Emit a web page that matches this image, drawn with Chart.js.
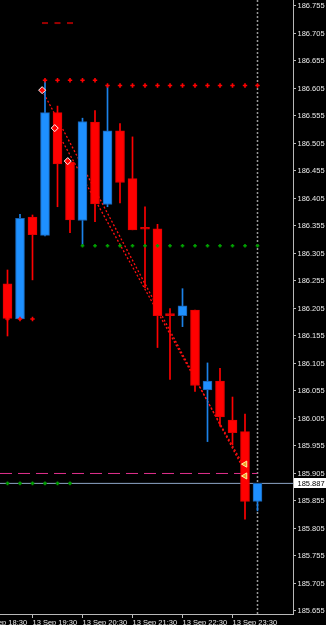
<!DOCTYPE html>
<html>
<head>
  <meta charset="UTF-8">
  <title>M15 Candles</title>
  <script src="https://cdn.jsdelivr.net/npm/chart.js"></script>
  <style>
    html, body { margin: 0; padding: 0; background: #000; }
    .chart-box { width: 326px; height: 625px; }
  </style>
</head>
<body>
  <div class="chart-box">
    <canvas id="priceChart"></canvas>
  </div>

  <script>
    // 15 minute candles, 13 Sep 19:00 .. 14 Sep 00:00
    const times = ['19:00','19:15','19:30','19:45','20:00','20:15','20:30','20:45','21:00','21:15','21:30',
                   '21:45','22:00','22:15','22:30','22:45','23:00','23:15','23:30','23:45','00:00'];
    const opens  = [186.250, 186.186, 186.371, 186.338, 186.561, 186.471, 186.365, 186.544, 186.394, 186.528, 186.441,
                    186.352, 186.350, 186.195, 186.192, 186.202, 186.057, 186.073, 186.002, 185.981, 185.854];
    const highs  = [186.275, 186.376, 186.375, 186.620, 186.573, 186.473, 186.551, 186.565, 186.611, 186.541, 186.517,
                    186.390, 186.358, 186.205, 186.241, 186.202, 186.106, 186.096, 186.044, 186.013, 185.887];
    const lows   = [186.155, 186.185, 186.257, 186.337, 186.390, 186.343, 186.319, 186.363, 186.390, 186.397, 186.348,
                    186.243, 186.134, 186.076, 186.172, 186.054, 185.963, 185.991, 185.957, 185.822, 185.837];
    const closes = [186.187, 186.369, 186.339, 186.561, 186.468, 186.366, 186.545, 186.395, 186.528, 186.434, 186.348,
                    186.349, 186.192, 186.192, 186.210, 186.065, 186.073, 186.008, 185.979, 185.854, 185.887];
    const bid = 185.887;

    // price axis and time axis ticks
    const yTicks = [186.755, 186.705, 186.655, 186.605, 186.555, 186.505, 186.455, 186.405, 186.355, 186.305, 186.255,
                    186.205, 186.155, 186.105, 186.055, 186.005, 185.955, 185.905, 185.855, 185.805, 185.755, 185.705, 185.655];
    const xTickPos = [-2, 2, 6, 10, 14, 18];   // candle index (18:30 is two bars before the first one)
    const xTickLabels = ['13 Sep 18:30', '13 Sep 19:30', '13 Sep 20:30', '13 Sep 21:30', '13 Sep 22:30', '13 Sep 23:30'];

    // indicator levels (candle indexes + price)
    const redTopIdx = [3, 4, 5, 6, 7];            const redTopPrice = 186.620;
    const redResIdx = [8, 9, 10, 11, 12, 13, 14, 15, 16, 17, 18, 19, 20]; const redResPrice = 186.6105;
    const greenSupIdx = [6, 7, 8, 9, 10, 11, 12, 13, 14, 15, 16, 17, 18, 19, 20]; const greenSupPrice = 186.319;
    const greenLowIdx = [0, 1, 2, 3, 4, 5];       const greenLowPrice = 185.887;
    const redLowIdx = [0, 1, 2];                  const redLowPrice = 186.186;
    const darkDashIdx = [3, 4, 5];                const darkDashPrice = 186.724;
    const pinkLevel = 185.905;
    const separatorIdx = 20;

    // trend lines and arrows
    const trendA = [[2.76, 186.602], [18.84, 185.915]];
    const trendB = [[3.80, 186.533], [19.08, 185.911]];
    const closeArrows = [[2.77, 186.602], [3.78, 186.533], [4.82, 186.473]];
    const sellArrows = [[19.0, 185.922], [19.0, 185.9005]];

    const xMin = -0.6, xMax = 22.84;
    const yMin = 185.6495, yMax = 186.7659;

    const BLUE = '#1e90ff', RED = '#ff0000';
    const up = times.map((t, i) => closes[i] >= opens[i]);
    const font = { family: '"Liberation Sans", Arial, sans-serif', size: 7.5 };
    const pts = arr => arr.map(p => ({ x: p[0], y: p[1] }));
    const row = (idx, price) => idx.map(i => ({ x: i, y: price }));

    const bidLabel = {
      id: 'bidLabel',
      afterDraw(chart) {
        const { ctx, chartArea, scales } = chart;
        const py = Math.round(scales.y.getPixelForValue(bid));
        ctx.save();
        ctx.fillStyle = '#ffffff';
        ctx.fillRect(chartArea.right + 1, py - 5, chart.width - chartArea.right, 10);
        ctx.fillStyle = '#000000';
        ctx.font = '7.5px "Liberation Sans", Arial, sans-serif';
        ctx.textBaseline = 'middle';
        ctx.fillText(bid.toFixed(3), chartArea.right + 4.5, py + 0.5);
        ctx.restore();
      }
    };

    const ctx = document.getElementById('priceChart').getContext('2d');
    new Chart(ctx, {
      type: 'bar',
      data: {
        datasets: [
          // candles
          {
            type: 'bar', order: 5, grouped: false, barThickness: 1,
            data: times.map((t, i) => ({ x: i, y: [lows[i], highs[i]] })),
            backgroundColor: up.map(u => u ? '#1c82e8' : RED)
          },
          {
            type: 'bar', order: 4, grouped: false, barThickness: 9, minBarLength: 2,
            data: times.map((t, i) => ({ x: i, y: [opens[i], closes[i]] })),
            backgroundColor: up.map(u => u ? BLUE : RED),
            borderColor: up.map(u => u ? '#1a62b0' : '#e00000'),
            borderWidth: 1, borderSkipped: false
          },
          // horizontal lines
          {
            type: 'line', order: 8, data: [{ x: xMin, y: bid }, { x: xMax, y: bid }],
            borderColor: '#8ea6c6', borderWidth: 1, pointRadius: 0
          },
          {
            type: 'line', order: 7, data: [{ x: xMin, y: pinkLevel }, { x: separatorIdx, y: pinkLevel }],
            borderColor: '#e0308c', borderWidth: 1, borderDash: [12, 6], pointRadius: 0
          },
          {
            type: 'line', order: 9, data: [{ x: separatorIdx, y: yMin }, { x: separatorIdx, y: yMax }],
            borderColor: '#9a9a9a', borderWidth: 1.5, borderDash: [2, 2], pointRadius: 0
          },
          // trend lines
          {
            type: 'line', order: 6, data: pts(trendA),
            borderColor: '#ff1010', borderWidth: 1.3, borderDash: [2, 2], pointRadius: 0
          },
          {
            type: 'line', order: 6, data: pts(trendB),
            borderColor: '#ff1010', borderWidth: 1.3, borderDash: [2, 2], pointRadius: 0
          },
          // level dots
          {
            type: 'line', order: 3, showLine: false, data: row(redTopIdx, redTopPrice).concat(row(redResIdx, redResPrice), row(redLowIdx, redLowPrice)),
            pointStyle: 'cross', pointRadius: 2.2, pointBorderWidth: 1.6, pointBorderColor: RED, pointBackgroundColor: RED
          },
          {
            type: 'line', order: 3, showLine: false, data: row(greenSupIdx, greenSupPrice).concat(row(greenLowIdx, greenLowPrice)),
            pointStyle: 'cross', pointRadius: 1.8, pointBorderWidth: 1.6, pointBorderColor: '#00a000', pointBackgroundColor: '#00a000'
          },
          {
            type: 'line', order: 3, showLine: false, data: row(darkDashIdx, darkDashPrice),
            pointStyle: 'line', pointRadius: 3, pointBorderWidth: 2, pointBorderColor: '#9a0000'
          },
          // arrows
          {
            type: 'line', order: 1, showLine: false, data: pts(closeArrows),
            pointStyle: 'rectRot', pointRadius: 3.5, pointBorderWidth: 1,
            pointBorderColor: '#ffffff', pointBackgroundColor: RED
          },
          {
            type: 'line', order: 1, showLine: false, data: pts(sellArrows),
            pointStyle: 'triangle', pointRotation: -90, pointRadius: 3.5, pointBorderWidth: 1,
            pointBorderColor: '#fff2a0', pointBackgroundColor: '#f0a020'
          }
        ]
      },
      options: {
        responsive: true,
        maintainAspectRatio: false,
        animation: false,
        events: [],
        layout: { padding: 0, autoPadding: false },
        plugins: { legend: { display: false }, tooltip: { enabled: false } },
        scales: {
          x: {
            type: 'linear', min: xMin, max: xMax, offset: false, bounds: 'data',
            afterBuildTicks: s => { s.ticks = xTickPos.map(v => ({ value: v })); },
            afterFit: s => { s.height = 11; s.paddingLeft = 0; s.paddingRight = 0; },
            grid: { drawOnChartArea: false, tickLength: 4, color: '#b8b8b8', offset: false },
            border: { display: true, color: '#b8b8b8' },
            ticks: {
              align: 'start', maxRotation: 0, autoSkip: false, padding: 0, color: '#e8e8e8', font: font,
              callback: (v, i) => xTickLabels[i]
            }
          },
          y: {
            position: 'right', min: yMin, max: yMax, bounds: 'data',
            afterBuildTicks: s => { s.ticks = yTicks.map(v => ({ value: v })); },
            afterFit: s => { s.width = 33; s.paddingTop = 0; s.paddingBottom = 0; },
            grid: { drawOnChartArea: false, tickLength: 3, color: '#b8b8b8' },
            border: { display: true, color: '#b8b8b8' },
            ticks: {
              autoSkip: false, padding: 1.5, color: '#e8e8e8', font: font,
              callback: v => Number(v).toFixed(3)
            }
          }
        }
      },
      plugins: [bidLabel]
    });
  </script>
</body>
</html>
